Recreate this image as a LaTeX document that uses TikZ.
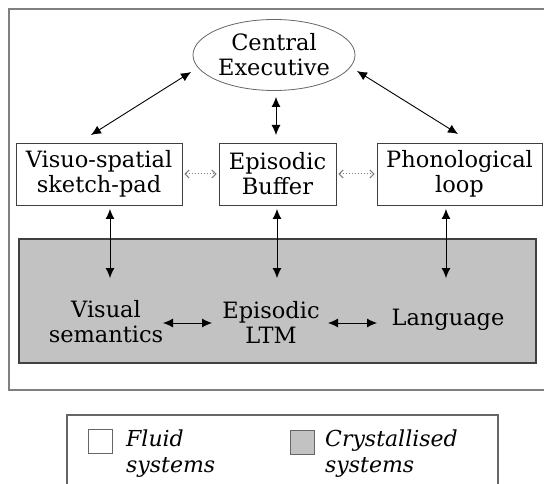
\documentclass[tikz,border=0pt]{standalone}
\usepackage{fontspec}
\setmainfont{DejaVu Serif}
\usetikzlibrary{shapes.geometric,arrows.meta}
\definecolor{crys}{HTML}{C2C2C2}
\begin{document}
\begin{tikzpicture}[x=1pt,y=-1pt,
  font=\fontsize{22.5}{25}\selectfont,
  fluidbox/.style={draw=black!75, line width=0.9pt, fill=white, minimum height=62pt, inner sep=0pt, align=center},
  lbl/.style={align=center, inner sep=0pt},
  dbl/.style={{Latex[length=10pt,width=9pt]}-{Latex[length=10pt,width=9pt]}, line width=0.9pt},
  dotarr/.style={black!50, dotted, line width=1pt, {Straight Barb[length=4pt,width=8pt]}-{Straight Barb[length=4pt,width=8pt]}, shorten <=2pt, shorten >=2pt},
  legsq/.style={draw=black!60, line width=0.8pt, minimum size=24pt, inner sep=0pt}
]
\useasboundingbox (0,0) rectangle (544,484);
\fill[white] (0,0) rectangle (544,484);
% outer frame and legend frame
\draw[black!50, line width=1.3pt] (9,9) rectangle (560,390);
\draw[black!60, line width=1.1pt] (67,415) rectangle (498,500);
% crystallised area
\node[draw=black!75, line width=1.2pt, fill=crys, minimum width=517pt, minimum height=124pt, inner sep=0pt] (crysbox) at (277.5,301) {};
% fluid systems
\node[draw=black!60, line width=0.8pt, ellipse, minimum width=162pt, minimum height=71pt, inner sep=0pt, align=center] (ce) at (274,55) {Central\\Executive};
\node[fluidbox, minimum width=166pt] (vs) at (99,174) {Visuo-spatial\\sketch-pad};
\node[fluidbox, minimum width=117pt] (eb) at (277.5,174) {Episodic\\Buffer};
\node[fluidbox, minimum width=165pt] (pl) at (459.5,174) {Phonological\\loop};
% crystallised systems
\node[lbl] (vsem) at (106,322) {Visual\\semantics};
\node[lbl] (eltm) at (271,322) {Episodic\\LTM};
\node[lbl] (lang) at (448,320) {Language};
% arrow end points
\coordinate (ceL) at (191,72);
\coordinate (vsT) at (91,135);
\coordinate (ceR) at (357,71);
\coordinate (plT) at (458,134);
\coordinate (ceB) at (276,97);
\coordinate (ebT) at (276,135);
\coordinate (vsB) at (110,209);
\coordinate (vsemT) at (110,278);
\coordinate (ebB) at (277,209);
\coordinate (eltmT) at (277,278);
\coordinate (plB) at (446,209);
\coordinate (langT) at (446,278);
\coordinate (vsemR) at (163,323);
\coordinate (eltmL) at (212,323);
\coordinate (eltmR) at (328,323);
\coordinate (langL) at (377,323);
% connectors
\draw[dbl] (ceL) -- (vsT);
\draw[dbl] (ceR) -- (plT);
\draw[dbl] (ceB) -- (ebT);
\draw[dbl] (vsB) -- (vsemT);
\draw[dbl] (ebB) -- (eltmT);
\draw[dbl] (plB) -- (langT);
\draw[dbl] (vsemR) -- (eltmL);
\draw[dbl] (eltmR) -- (langL);
\draw[dotarr] (vs.east) -- (eb.west);
\draw[dotarr] (eb.east) -- (pl.west);
% legend
\node[legsq, fill=white] (fsq) at (100.5,441.5) {};
\node[legsq, fill=crys] (csq) at (302.5,442) {};
\node[lbl, anchor=west, align=left, font=\fontsize{22}{26}\selectfont\itshape] (ftxt) at (126,454) {Fluid\\systems};
\node[lbl, anchor=west, align=left, font=\fontsize{22}{26}\selectfont\itshape] (ctxt) at (325,454) {Crystallised\\systems};
\end{tikzpicture}
\end{document}
